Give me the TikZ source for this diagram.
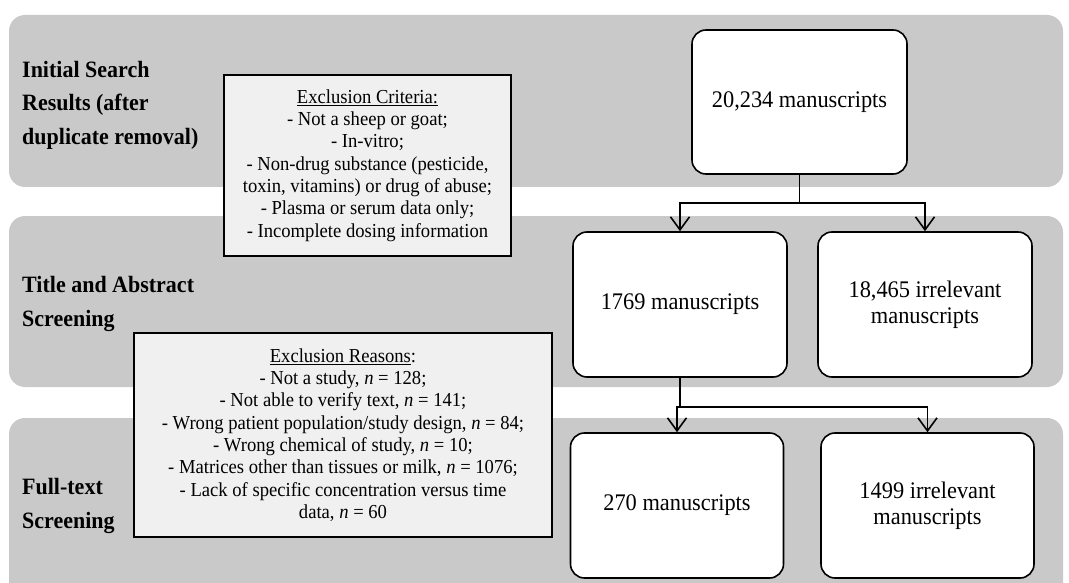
\documentclass[tikz,border=0pt]{standalone}
\usepackage{fontspec}
\setmainfont[FakeStretch=0.94]{Liberation Serif}
\usetikzlibrary{arrows.meta}
\definecolor{bandgray}{RGB}{201,201,201}
\definecolor{exgray}{RGB}{240,240,240}
\begin{document}
\begin{tikzpicture}[x=1pt,y=-1pt,
  band/.style={fill=bandgray, rounded corners=16pt},
  mbox/.style={draw, line width=1.6pt, rounded corners=14pt, fill=white, align=center,
    font=\fontsize{23.8}{26}\selectfont, inner sep=0pt, minimum width=214pt, minimum height=145pt},
  exbox/.style={draw, line width=1.8pt, fill=exgray, align=center,
    font=\fontsize{19.8}{22.3}\selectfont, inner sep=0pt},
  stage/.style={anchor=west, align=left, font=\fontsize{23.4}{33.5}\selectfont\bfseries, inner sep=0pt},
  conn/.style={line width=1.6pt},
  arr/.style={conn, -{Straight Barb[length=13pt,width=19pt,line width=1.6pt]}}]
\useasboundingbox (0,0) rectangle (1069,583);
\begin{scope}
\clip (0,0) rectangle (1069,583);
\fill[band] (9,15) rectangle (1063,187);
\fill[band] (9,216) rectangle (1063,387);
\fill[band] (9,418) rectangle (1063,600);
\end{scope}

\node[stage] (s1) at (22,105) {Initial Search\\Results (after\\duplicate removal)};
\node[stage] (s2) at (22,304) {Title and Abstract\\Screening};
\node[stage] (s3) at (22,506) {Full-text\\Screening};

\node[exbox, minimum width=287pt, minimum height=181pt] (crit) at (367.5,165.5)
  {\underline{Exclusion Criteria:}\\
   - Not a sheep or goat;\\
   - In-vitro;\\
   - Non-drug substance (pesticide,\\
   toxin, vitamins) or drug of abuse;\\
   - Plasma or serum data only;\\
   - Incomplete dosing information};

\node[exbox, minimum width=418pt, minimum height=204pt] (reas) at (343,435)
  {\underline{Exclusion Reasons}:\\
   - Not a study, \textit{n} = 128;\\
   - Not able to verify text, \textit{n} = 141;\\
   - Wrong patient population/study design, \textit{n} = 84;\\
   - Wrong chemical of study, \textit{n} = 10;\\
   - Matrices other than tissues or milk, \textit{n} = 1076;\\
   - Lack of specific concentration versus time\\
   data, \textit{n} = 60};

\node[mbox, minimum width=215pt, minimum height=144pt] (m0) at (799.5,102) {20,234 manuscripts};
\node[mbox] (m1) at (680,304.5) {1769 manuscripts};
\node[mbox] (x1) at (925,304.5) {18,465 irrelevant\\manuscripts};
\node[mbox, minimum width=213pt] (m2) at (677,505.5) {270 manuscripts};
\node[mbox, minimum width=213pt] (x2) at (927.5,505.5) {1499 irrelevant\\manuscripts};

\draw[conn] (m0.south) -- ++(0,28) coordinate (j1);
\draw[arr] (j1) -| (m1.north);
\draw[arr] (j1) -| (x1.north);
\draw[conn] (m1.south) -- ++(0,29) coordinate (j2);
\draw[arr] (j2) -| (m2.north);
\draw[arr] (j2) -| (x2.north);
\end{tikzpicture}
\end{document}
